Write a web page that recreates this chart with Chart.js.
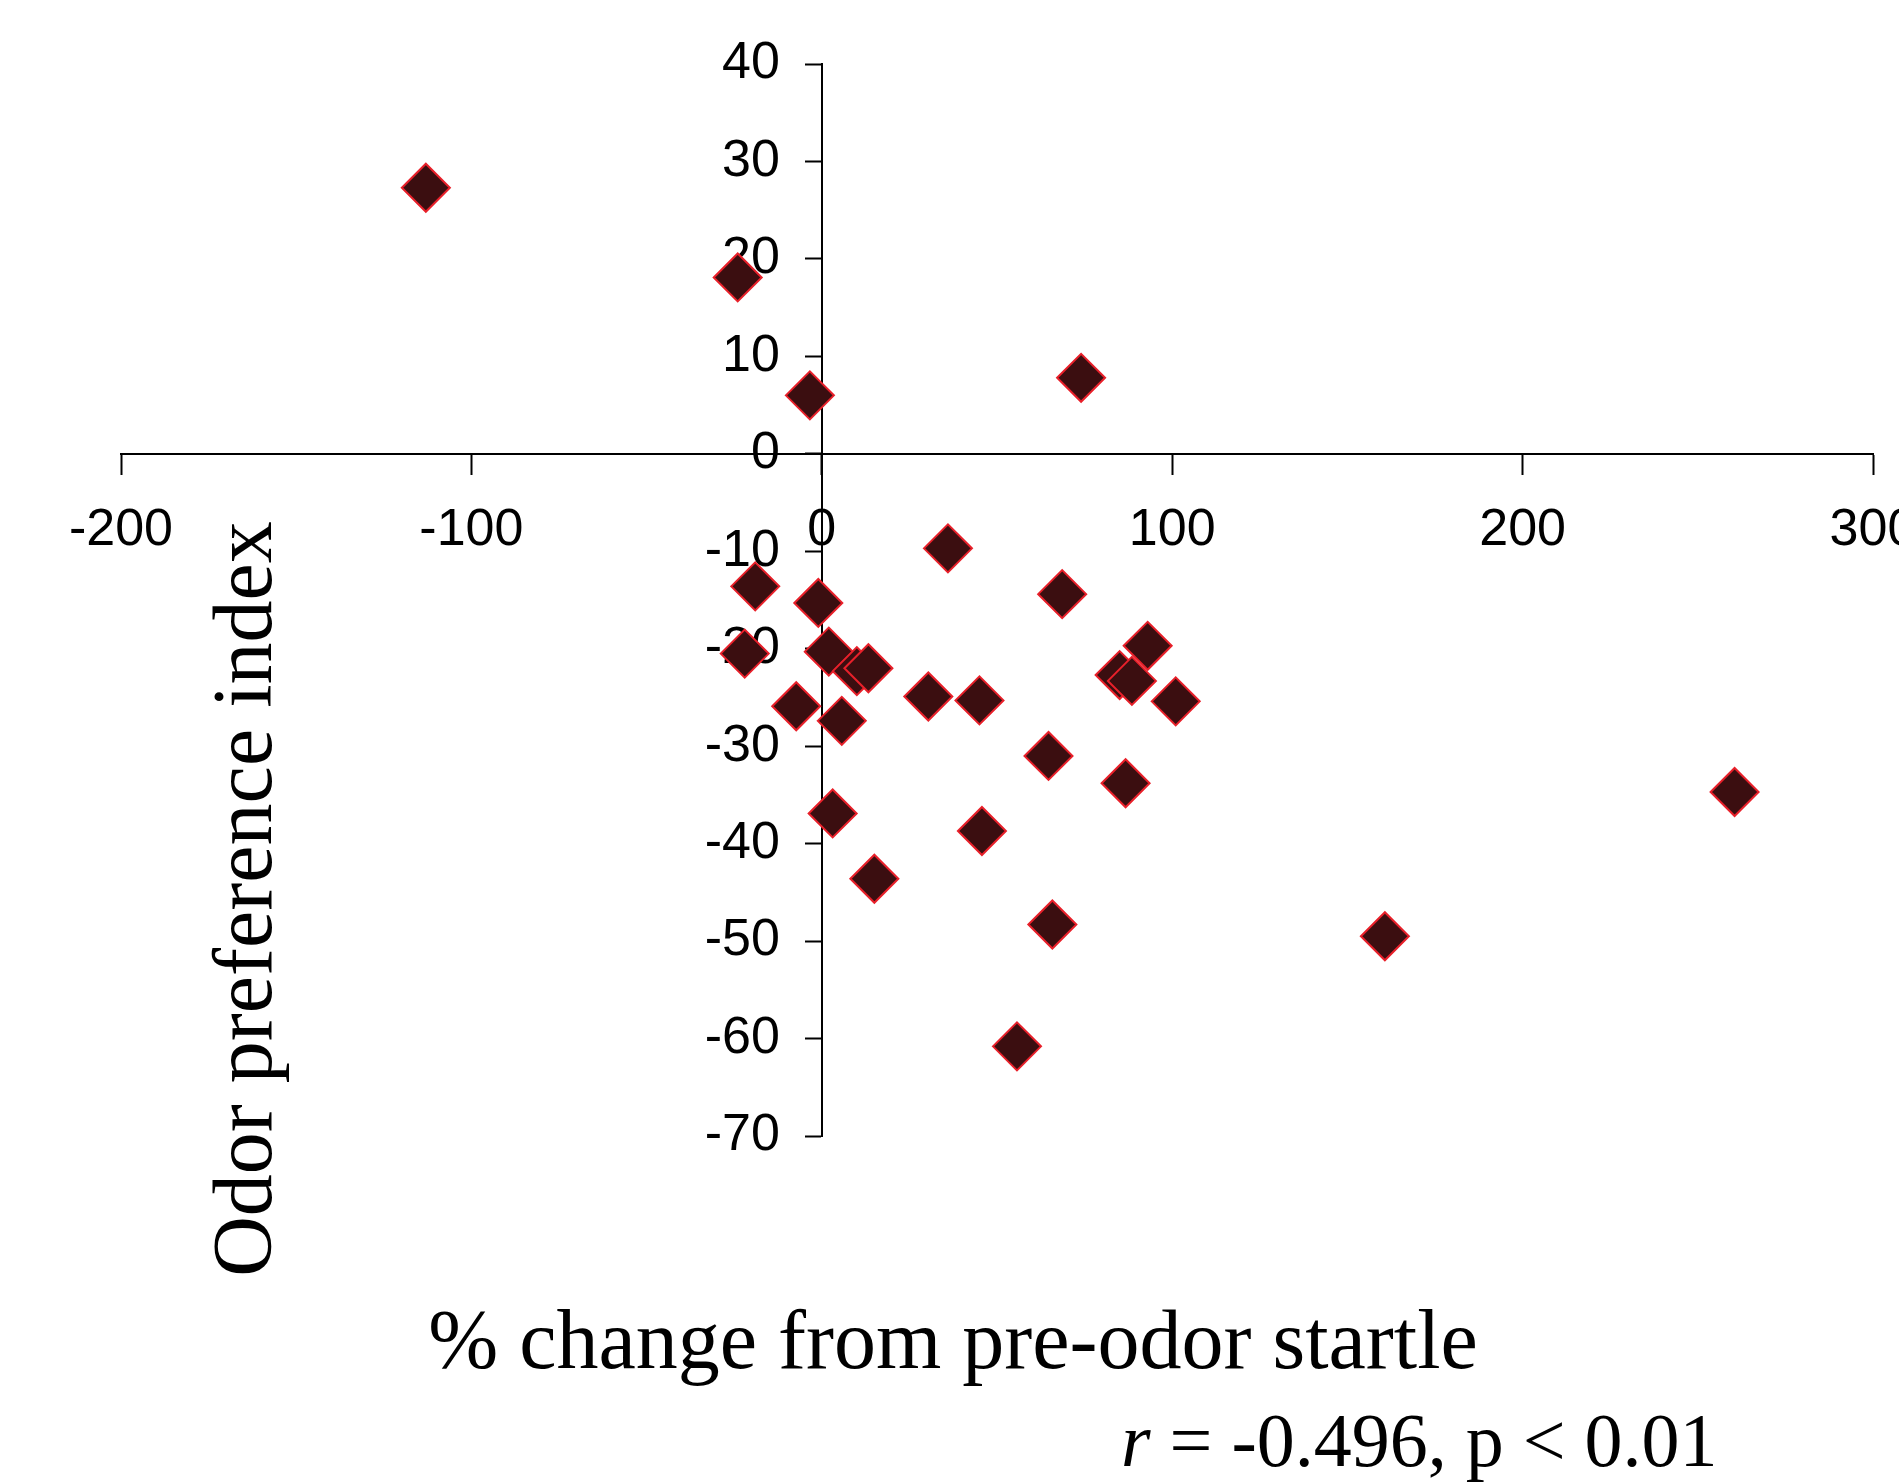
<!DOCTYPE html>
<html>
<head>
<meta charset="utf-8">
<script src="https://cdn.jsdelivr.net/npm/chart.js@4.4.1/dist/chart.umd.min.js"></script>
<style>
  html, body { margin: 0; padding: 0; background: #ffffff; }
  #wrap { width: 1899px; height: 1482px; position: relative; }
</style>
</head>
<body>
<div id="wrap"><canvas id="startle-chart" width="1899" height="1482"></canvas></div>
<script>
// % change from pre-odor startle (x) and odor preference index (y), one entry per animal
const pctChange = [-113, -24, -3.4, 74, 36, -19, -1, 68.6, 93, -22, 2, 10, 13.3, 85, 88.5,
  -7.3, 30.4, 45, 101, 5.7, 64.7, 86.7, 3.1, 45.7, 15, 65.8, 55.7, 160.7, 260.5];
const odorIndex = [27.3, 18.1, 6.0, 7.8, -9.7, -13.6, -15.3, -14.4, -19.7, -20.5, -20.3, -22.3, -22, -22.7, -23.3,
  -25.9, -24.9, -25.3, -25.4, -27.4, -31, -33.8, -36.9, -38.7, -43.6, -48.3, -60.8, -49.5, -34.7];

const xTicks = [-200, -100, 0, 100, 200, 300];
const yTicks = [40, 30, 20, 10, 0, -10, -20, -30, -40, -50, -60, -70];

const xTitle = "% change from pre-odor startle";
const yTitle = "Odor preference index";
const statR = "r";
const statRest = " = -0.496, p < 0.01";

const SANS = "'Liberation Sans', Arial, Helvetica, sans-serif";
const SERIF = "'Liberation Serif', 'Times New Roman', serif";

const points = pctChange.map((x, i) => ({ x: x, y: odorIndex[i] }));

// titles sit far from the crossing axes, so they are drawn by hand
const titlesPlugin = {
  id: "titles",
  afterDraw(chart) {
    const ctx = chart.ctx;
    ctx.save();
    ctx.fillStyle = "#000";
    ctx.font = "84px " + SERIF;
    ctx.textBaseline = "alphabetic";

    ctx.textAlign = "center";
    ctx.fillText(xTitle, 953, 1368);

    ctx.save();
    ctx.translate(271, 899);
    ctx.rotate(-Math.PI / 2);
    ctx.fillText(yTitle, 0, 0);
    ctx.restore();

    ctx.textAlign = "left";
    ctx.font = "italic 76px " + SERIF;
    ctx.fillText(statR, 1121, 1466);
    const rw = ctx.measureText(statR).width;
    ctx.font = "76px " + SERIF;
    ctx.fillText(statRest, 1121 + rw, 1466);
    ctx.restore();
  },
};

function zeroPadding(scale) {
  scale.paddingLeft = 0;
  scale.paddingRight = 0;
  scale.paddingTop = 0;
  scale.paddingBottom = 0;
}

// a y axis placed at x = 0 puts its labels right on the line; push them out past the ticks
function shiftYLabels(scale) {
  if (scale._shiftPatched) return;
  scale._shiftPatched = true;
  const orig = scale._computeLabelItems;
  scale._computeLabelItems = function (chartArea) {
    const items = orig.call(this, chartArea);
    const shift = this.options.grid.tickLength + this.options.ticks.padding;
    items.forEach((item) => {
      item.options.translation[0] -= shift;
    });
    return items;
  };
}

new Chart(document.getElementById("startle-chart"), {
  type: "scatter",
  data: {
    datasets: [
      {
        data: points,
        pointStyle: "rectRot",
        pointRadius: 24,
        pointHoverRadius: 24,
        backgroundColor: "#3b0e10",
        borderColor: "#e8202a",
        borderWidth: 2,
      },
    ],
  },
  options: {
    responsive: false,
    animation: false,
    devicePixelRatio: 1,
    layout: {
      padding: { left: 121, right: 23, top: 64, bottom: 346 },
    },
    plugins: {
      legend: { display: false },
      tooltip: { enabled: false },
    },
    scales: {
      x: {
        type: "linear",
        position: { y: 0 },
        min: xTicks[0],
        max: xTicks[xTicks.length - 1],
        afterBuildTicks: (scale) => {
          scale.ticks = xTicks.map((v) => ({ value: v }));
        },
        afterFit: zeroPadding,
        ticks: {
          color: "#000",
          padding: 26,
          maxRotation: 0,
          autoSkip: false,
          font: { family: SANS, size: 52 },
        },
        grid: {
          drawOnChartArea: false,
          drawTicks: true,
          tickLength: 20,
          tickWidth: 2,
          color: "#000",
        },
        border: { color: "#000", width: 2 },
      },
      y: {
        type: "linear",
        position: { x: 0 },
        min: yTicks[yTicks.length - 1],
        max: yTicks[0],
        afterBuildTicks: (scale) => {
          scale.ticks = yTicks.slice().reverse().map((v) => ({ value: v }));
        },
        afterFit: zeroPadding,
        afterUpdate: shiftYLabels,
        ticks: {
          color: "#000",
          padding: 26,
          autoSkip: false,
          font: { family: SANS, size: 52 },
        },
        grid: {
          drawOnChartArea: false,
          drawTicks: true,
          tickLength: 16,
          tickWidth: 2,
          color: "#000",
        },
        border: { color: "#000", width: 2 },
      },
    },
  },
  plugins: [titlesPlugin],
});
</script>
</body>
</html>
